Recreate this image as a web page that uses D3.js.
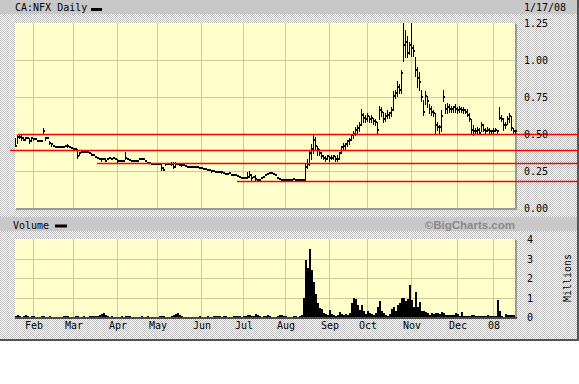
<!DOCTYPE html>
<html><head><meta charset="utf-8">
<script src="https://cdn.jsdelivr.net/npm/d3@7"></script>
<style>
body{margin:0;background:#fff}
svg{display:block}
text{font-family:"DejaVu Sans Mono",monospace;font-size:10px;fill:#000}
</style>
</head><body>
<svg id="chart" width="579" height="384"></svg>
<script>
// ---------- data ----------
const title = "CA:NFX Daily";
const dateLabel = "1/17/08";
const firstIdx = -9; // trading-day index of first bar (Feb 1 2007 = 0)
const highs = [
.47,.49,.49,.49,.48,.48,.47,.47,.47,
.47,.465,.46,.455,.455,.54,.48,.47,.45,.44,
.42,.42,.41,.415,.41,.41,.42,.435,.41,.405,
.40,.40,.40,.38,.38,.38,.38,.38,.375,.37,
.355,.345,.335,.33,.34,.33,.34,.33,.335,.33,
.34,.33,.33,.315,.32,.32,.38,.33,.325,.32,
.32,.32,.32,.33,.33,.33,.32,.305,.305,.30,
.30,.30,.30,.295,.30,.28,.30,.30,.30,.31,
.31,.31,.30,.29,.30,.29,.285,.28,.28,.28,
.275,.275,.275,.27,.27,.265,.265,.26,.255,.26,
.25,.245,.245,.24,.25,.235,.23,.23,.235,.225,
.22,.225,.215,.21,.205,.20,.20,.24,.25,.23,
.21,.22,.19,.19,.20,.21,.225,.23,.235,.235,
.23,.225,.20,.195,.19,.19,.19,.19,.19,.19,
.195,.19,.19,.19,.19,.19,.30,.33,.39,.43,
.50,.48,.42,.40,.38,.36,.35,.36,.35,.36,
.36,.35,.36,.38,.42,.44,.44,.46,.47,.50,
.52,.55,.56,.58,.67,.64,.63,.64,.62,.63,
.61,.60,.58,.69,.68,.65,.64,.66,.65,.68,
.79,.80,.86,.84,.93,1.25,1.20,1.16,1.12,1.25,
1.10,1.02,.95,.92,.80,.73,.79,.76,.70,.69,
.66,.64,.58,.56,.66,.80,.70,.71,.70,.69,
.69,.70,.68,.69,.68,.68,.67,.67,.64,.60,
.56,.54,.55,.54,.58,.57,.54,.55,.54,.53,
.54,.54,.53,.68,.63,.61,.58,.62,.64,.62,
.54,.53];
const lows = [
.42,.44,.47,.46,.46,.46,.47,.44,.45,
.46,.465,.455,.455,.455,.51,.46,.47,.43,.42,
.42,.41,.41,.415,.41,.41,.42,.41,.41,.405,
.40,.40,.34,.36,.38,.38,.38,.38,.375,.36,
.355,.345,.335,.33,.32,.33,.32,.33,.335,.33,
.34,.33,.31,.315,.32,.32,.33,.33,.325,.32,
.32,.32,.32,.33,.33,.33,.32,.305,.305,.30,
.30,.30,.30,.295,.26,.255,.29,.30,.30,.29,
.27,.28,.30,.29,.285,.29,.285,.28,.28,.28,
.275,.275,.275,.27,.27,.265,.265,.26,.255,.245,
.25,.245,.245,.24,.235,.235,.23,.23,.235,.225,
.22,.225,.215,.21,.205,.20,.20,.20,.21,.19,
.21,.19,.19,.19,.20,.21,.225,.23,.235,.235,
.23,.225,.20,.195,.19,.19,.19,.19,.19,.19,
.195,.19,.19,.19,.19,.19,.19,.27,.29,.33,
.37,.39,.36,.36,.34,.33,.32,.33,.32,.33,
.33,.32,.32,.33,.37,.39,.40,.42,.43,.46,
.47,.49,.50,.52,.56,.58,.58,.59,.58,.58,
.57,.56,.51,.60,.62,.58,.59,.61,.61,.62,
.66,.74,.76,.78,.78,.99,1.02,1.02,1.04,1.03,
1.03,.89,.82,.80,.72,.63,.70,.68,.64,.63,
.62,.51,.53,.51,.52,.72,.64,.64,.65,.65,
.65,.65,.64,.65,.65,.64,.64,.62,.59,.50,
.49,.51,.51,.50,.52,.52,.51,.52,.51,.51,
.51,.52,.51,.60,.59,.53,.54,.57,.58,.53,
.51,.51];
const closes = [
.42,.48,.48,.47,.46,.47,.47,.45,.47,
.465,.465,.455,.455,.455,.52,.47,.47,.44,.43,
.42,.415,.41,.415,.41,.41,.42,.42,.41,.405,
.40,.40,.35,.37,.38,.38,.38,.38,.375,.36,
.355,.345,.335,.33,.33,.33,.32,.33,.335,.33,
.34,.33,.32,.315,.32,.32,.34,.33,.325,.32,
.32,.32,.32,.33,.33,.33,.32,.305,.305,.30,
.30,.30,.30,.295,.27,.26,.30,.30,.30,.30,
.28,.30,.30,.29,.29,.29,.285,.28,.28,.28,
.275,.275,.275,.27,.27,.265,.265,.26,.255,.25,
.25,.245,.245,.24,.24,.235,.23,.23,.235,.225,
.22,.225,.215,.21,.205,.20,.20,.21,.22,.20,
.21,.195,.19,.19,.20,.21,.225,.23,.235,.235,
.23,.225,.20,.195,.19,.19,.19,.19,.19,.19,
.195,.19,.19,.19,.19,.19,.28,.30,.37,.40,
.46,.42,.40,.37,.35,.34,.33,.35,.34,.34,
.35,.33,.33,.37,.41,.42,.43,.45,.46,.49,
.50,.53,.54,.56,.63,.61,.60,.62,.60,.61,
.59,.58,.53,.66,.65,.60,.62,.63,.64,.66,
.76,.78,.82,.80,.91,1.10,1.12,1.05,1.10,1.08,
1.06,.93,.88,.85,.75,.65,.76,.72,.67,.65,
.64,.56,.55,.55,.62,.75,.67,.68,.67,.67,
.68,.67,.66,.67,.66,.66,.65,.63,.60,.53,
.52,.52,.53,.51,.56,.53,.52,.53,.52,.52,
.52,.53,.52,.61,.60,.56,.56,.60,.62,.54,
.52,.52];
const volumes = [ // millions
.05,.08,.03,.02,.06,.08,.04,.02,.03,
.05,.02,.01,.02,.03,.04,.02,.01,.03,.02,
.01,.02,.01,.01,.02,.03,.04,.05,.02,.01,
.02,.03,.04,.02,.02,.03,.01,.02,.04,.05,
.06,.03,.04,.08,.15,.20,.10,.05,.02,.03,
.01,.02,.01,.02,.03,.02,.04,.06,.05,.02,
.01,.02,.01,.02,.03,.01,.02,.03,.02,.01,
.02,.01,.02,.03,.05,.04,.02,.01,.02,.03,
.08,.15,.22,.08,.03,.02,.01,.02,.01,.02,
.01,.02,.01,.03,.02,.01,.02,.03,.02,.01,
.04,.05,.03,.04,.02,.03,.05,.02,.01,.02,
.03,.05,.06,.03,.02,.03,.06,.09,.12,.06,
.05,.15,.08,.03,.02,.05,.06,.08,.04,.02,
.01,.02,.03,.10,.08,.05,.03,.02,.01,.02,
.03,.04,.02,.03,.10,1.0,2.9,2.5,3.5,2.4,
1.8,1.2,.70,.45,.40,.20,.15,.10,.35,.15,
.08,.05,.10,.25,.15,.10,.15,.10,.20,.70,
1.0,.90,.60,.35,.60,.30,.15,.30,.20,.15,
.10,.20,.50,.80,.30,.20,.10,.05,.15,.40,
.50,.30,.60,.70,1.0,.95,.80,.90,1.65,.85,
.50,1.3,.50,.75,.30,.30,.25,.20,.10,.20,
.15,.20,.20,.15,.25,.20,.10,.08,.10,.08,
.10,.20,.15,.05,.25,.05,.03,.05,.03,.12,
.10,.03,.04,.05,.03,.04,.05,.10,.04,.05,
.03,.04,.85,.30,.03,.02,.15,.12,.08,.10,
.08];
const monthLabels = ["Feb","Mar","Apr","May","Jun","Jul","Aug","Sep","Oct","Nov","Dec","08"];
const monthIdx = [0,20,42,62,84,105,126,148,167,189,212,230];
const priceTicks = [0,0.25,0.5,0.75,1,1.25];
const volTicks = [0,1,2,3,4];
const trendLevels = [0.50,0.392,0.304,0.182];
const trendStartIdx = [-7.5,-11.5,32,102];

// ---------- layout ----------
const W = 579;
const svg = d3.select("#chart");
const defs = svg.append("defs");
const pat = defs.append("pattern").attr("id","dots").attr("width",2).attr("height",2)
  .attr("patternUnits","userSpaceOnUse");
pat.append("rect").attr("width",2).attr("height",2).attr("fill","#ffffff");
pat.append("rect").attr("width",1).attr("height",1).attr("fill","#bdbdbd");
pat.append("rect").attr("x",1).attr("y",1).attr("width",1).attr("height",1).attr("fill","#bdbdbd");

svg.append("rect").attr("x",0).attr("y",0).attr("width",W).attr("height",340).attr("fill","url(#dots)");
svg.append("rect").attr("x",0).attr("y",0).attr("width",577).attr("height",14).attr("fill","#c8c8c8");
svg.append("rect").attr("x",0).attr("y",217).attr("width",577).attr("height",14).attr("fill","#c8c8c8");
svg.append("rect").attr("x",577).attr("y",0).attr("width",2).attr("height",341).attr("fill","#555");
svg.append("rect").attr("x",0).attr("y",339).attr("width",579).attr("height",2).attr("fill","#555");

const x = d3.scaleLinear().domain([-9,241]).range([15,515]);
const yP = d3.scaleLinear().domain([0,1.25]).range([208,23]);
const yV = d3.scaleLinear().domain([0,4]).range([317,239]);
const plotL = 15, plotR = 515;

function panel(top, bottom) {
  svg.append("rect").attr("x",plotL).attr("y",top).attr("width",plotR-plotL).attr("height",bottom-top).attr("fill","#ffffcc");
  svg.append("rect").attr("x",plotR).attr("y",top+1).attr("width",2).attr("height",bottom-top+1).attr("fill","#9a9a9a");
  svg.append("rect").attr("x",plotL+1).attr("y",bottom).attr("width",plotR-plotL+1).attr("height",2).attr("fill","#9a9a9a");
  svg.append("g").selectAll("line").data(monthIdx).join("line")
    .attr("x1",d=>Math.round(x(d))+0.5).attr("x2",d=>Math.round(x(d))+0.5)
    .attr("y1",top).attr("y2",bottom).attr("stroke","#cccc99").attr("stroke-width",1);
}
panel(23,208);
panel(239,317);

// horizontal grid
svg.append("g").selectAll("line").data(priceTicks.filter(d=>d>0&&d<1.25)).join("line")
  .attr("x1",plotL).attr("x2",plotR).attr("y1",d=>Math.round(yP(d))+0.5).attr("y2",d=>Math.round(yP(d))+0.5)
  .attr("stroke","#cccc99");
svg.append("g").selectAll("line").data(volTicks.filter(d=>d>0&&d<4)).join("line")
  .attr("x1",plotL).attr("x2",plotR).attr("y1",d=>Math.round(yV(d))+0.5).attr("y2",d=>Math.round(yV(d))+0.5)
  .attr("stroke","#cccc99");

// price bars
const days = highs.map((h,k)=>({i:firstIdx+k,h,l:lows[k],c:closes[k],v:volumes[k]}));
const gb = svg.append("g").attr("fill","#000").attr("shape-rendering","crispEdges");
days.forEach(d=>{
  const px = Math.round(x(d.i));
  const yh = Math.round(Math.max(yP(d.h),23)), yl = Math.round(yP(d.l)), yc = Math.round(yP(d.c));
  if (yl - yh >= 1) gb.append("rect").attr("x",px).attr("y",yh).attr("width",1).attr("height",yl-yh+1);
  gb.append("rect").attr("x",px).attr("y",yc-1).attr("width",2).attr("height",2);
});

// volume bars
svg.append("g").attr("shape-rendering","crispEdges").selectAll("rect").data(days).join("rect")
  .attr("x",d=>Math.round(x(d.i))).attr("width",2)
  .attr("y",d=>yV(d.v)).attr("height",d=>yV(0)-yV(d.v)).attr("fill","#000");
svg.append("rect").attr("x",plotL).attr("y",317).attr("width",plotR-plotL+2).attr("height",2).attr("fill","#4a4a4a");

// trend lines
svg.append("g").selectAll("line").data(trendLevels).join("line")
  .attr("x1",(d,k)=>x(trendStartIdx[k])).attr("x2",W)
  .attr("y1",d=>Math.round(yP(d))+0.5).attr("y2",d=>Math.round(yP(d))+0.5)
  .attr("stroke","#ff0000").attr("stroke-width",1.4);

// axes
const axP = d3.axisRight(yP).tickValues(priceTicks).tickFormat(d3.format(".2f")).tickSize(0).tickPadding(0);
svg.append("g").attr("transform","translate(524,0)").call(axP).call(g=>g.select(".domain").remove())
  .selectAll("text").attr("font-family",null).attr("font-size",null).attr("fill",null).attr("dy","0.35em");
const axV = d3.axisRight(yV).tickValues(volTicks).tickFormat(d3.format("d")).tickSize(0).tickPadding(0);
svg.append("g").attr("transform","translate(527,0)").call(axV).call(g=>g.select(".domain").remove())
  .selectAll("text").attr("font-family",null).attr("font-size",null).attr("fill",null).attr("dy","0.35em");
const axX = d3.axisBottom(x).tickValues(monthIdx).tickFormat((d,k)=>monthLabels[k]).tickSize(0).tickPadding(0);
svg.append("g").attr("transform","translate(0.5,322)").call(axX).call(g=>g.select(".domain").remove())
  .selectAll("text").attr("font-family",null).attr("font-size",null).attr("fill",null).attr("dy","0.71em");

// header texts
svg.append("text").attr("x",15).attr("y",11).text(title);
svg.append("rect").attr("x",91).attr("y",8).attr("width",11).attr("height",3).attr("fill","#000");
svg.append("text").attr("x",524).attr("y",11).text(dateLabel);
svg.append("text").attr("x",13).attr("y",228.5).text("Volume");
svg.append("rect").attr("x",55).attr("y",224.5).attr("width",12).attr("height",3).attr("fill","#000");
svg.append("text").attr("x",515).attr("y",229).attr("text-anchor","end")
  .style("font-family","'Liberation Sans',Arial,sans-serif").style("font-weight","bold").style("font-size","11.5px")
  .style("fill","#8a8a8a").text("\u00A9BigCharts.com");
svg.append("text").attr("transform","translate(567,278) rotate(-90)").attr("text-anchor","middle")
  .attr("dy","0.35em").text("Millions");
</script>
</body></html>
